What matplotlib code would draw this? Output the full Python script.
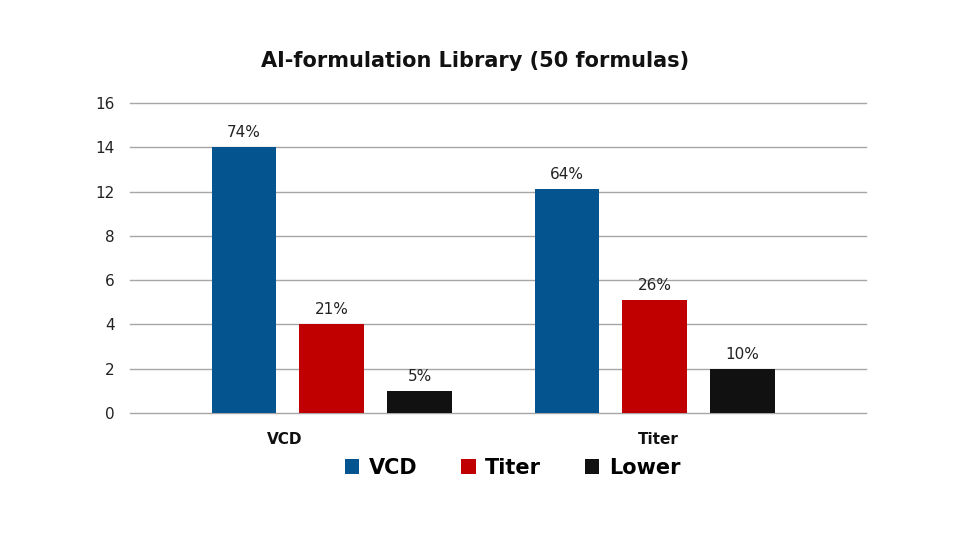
import numpy as np
import matplotlib.pyplot as plt
from matplotlib.patches import Patch

GROUPS = ["VCD", "Titer"]
SERIES = ["VCD", "Titer", "Lower"]
VALUES = {
    "VCD": [14, 12.1],
    "Titer": [4, 5.1],
    "Lower": [1, 2],
}
PCT = {
    "VCD": ["74%", "64%"],
    "Titer": ["21%", "26%"],
    "Lower": ["5%", "10%"],
}
# the source axis skips 10 but keeps the gridlines evenly spaced
YTICKS = [0, 2, 4, 6, 8, 12, 14, 16]
COLORS = ["#03548f", "#c00000", "#111111"]
FONT = ["DejaVu Sans"]

plt.rcParams["font.family"] = FONT

steps = np.arange(len(YTICKS))
def fwd(v):
  return np.interp(v, YTICKS, steps)
def inv(p):
  return np.interp(p, steps, YTICKS)

fig = plt.figure(figsize=(9.58, 5.41), dpi=100)
ax = fig.add_axes([0.1357, 0.2366, 0.904 - 0.1357, 0.8096 - 0.2366])
ax.set_yscale("function", functions=(fwd, inv))

x = np.arange(len(GROUPS))
width = 0.201
gap = 0.272
for i, name in enumerate(SERIES):
  xs = x + (i - 1) * gap - 0.005
  bars = ax.bar(xs, VALUES[name], width, color=COLORS[i], zorder=3, label=name)
  for b, txt in zip(bars, PCT[name]):
    ax.annotate(txt, (b.get_x() + b.get_width() / 2, b.get_height()),
                xytext=(0, 5), textcoords="offset points",
                ha="center", va="bottom", fontsize=11, color="#222222")

ax.set_ylim(0, 16)
ax.set_yticks(YTICKS)
ax.set_yticklabels([str(t) for t in YTICKS])
ax.set_xlim(-0.630, 1.649)
ax.set_xticks([-0.15, 1.005])
ax.set_xticklabels(GROUPS, fontsize=11, fontweight="bold", color="#111111")
ax.tick_params(axis="both", length=0)
ax.tick_params(axis="y", labelsize=11, labelcolor="#222222", pad=11)
ax.tick_params(axis="x", pad=14)
ax.grid(axis="y", color="#a6a6a6", linewidth=1, zorder=0)
for gl in ax.get_ygridlines():
  gl.set_clip_on(False)
for s in ax.spines.values():
  s.set_visible(False)

fig.text(0.496, 0.887, "AI-formulation Library (50 formulas)", ha="center", va="center",
         fontsize=15, fontweight="bold", color="#111111")

handles = [Patch(facecolor=c, label=n) for c, n in zip(COLORS, SERIES)]
fig.legend(handles=handles, loc="center", bbox_to_anchor=(0.535, 0.135), ncol=3,
           frameon=False, prop={"size": 15, "weight": "bold"},
           handlelength=0.7, handleheight=0.7, handletextpad=0.45, columnspacing=2.1)

fig.savefig("out.png", dpi=100)
